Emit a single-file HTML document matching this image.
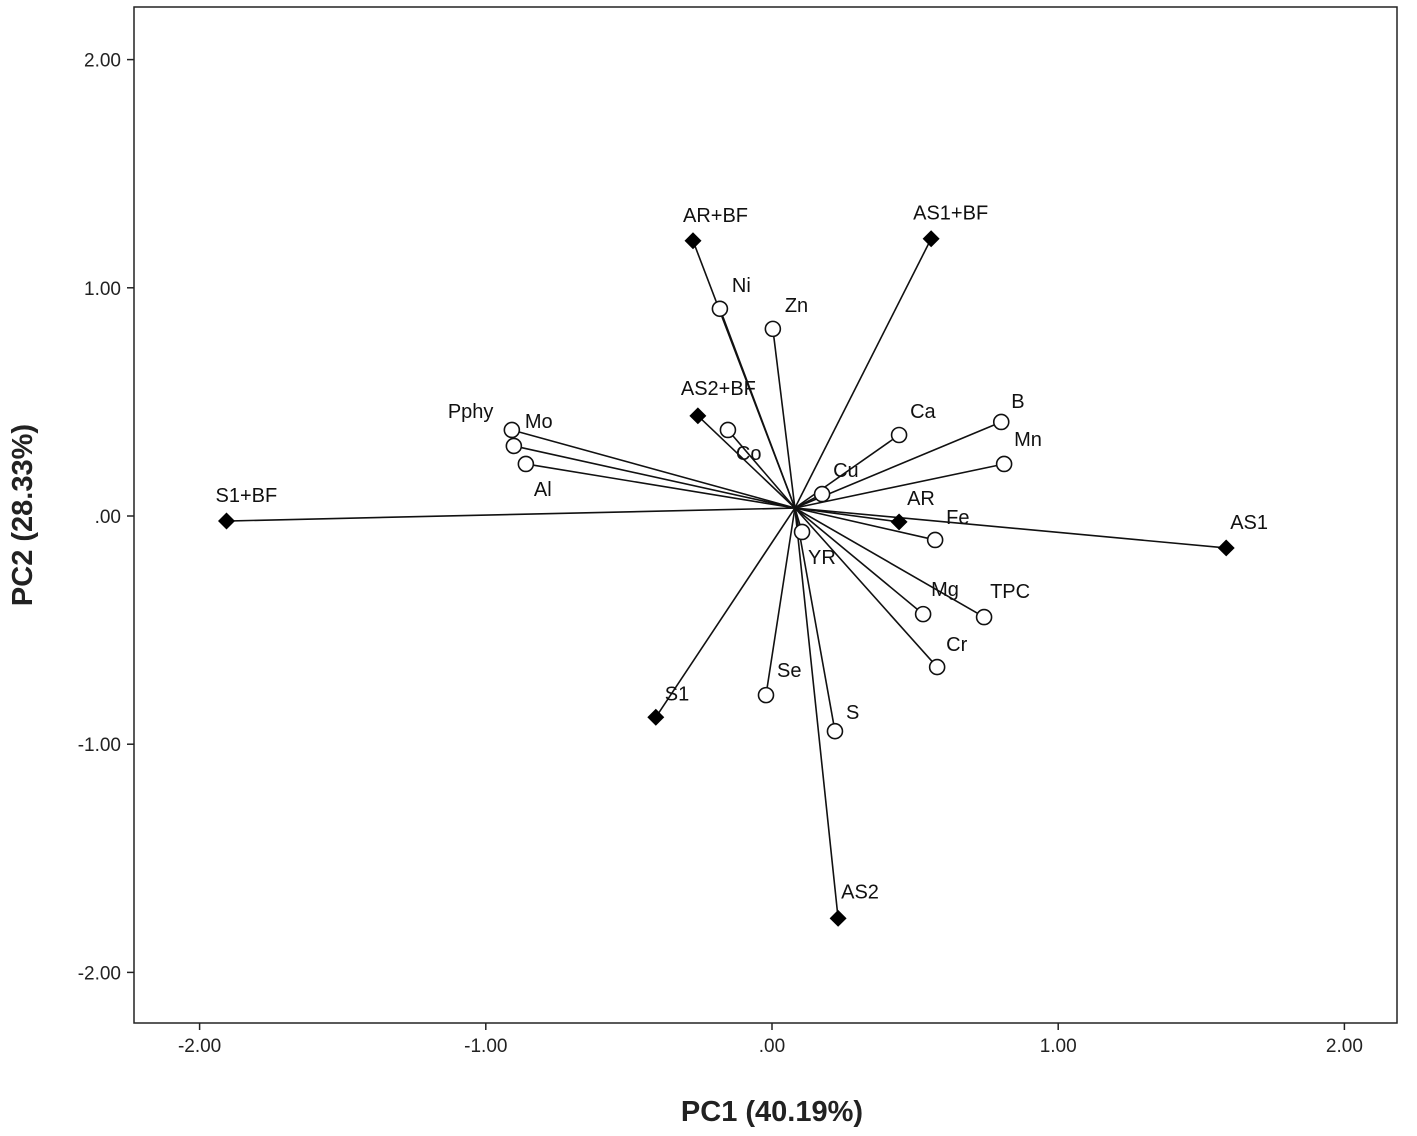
<!DOCTYPE html>
<html><head><meta charset="utf-8"><style>
body{margin:0;background:#fff;}
svg{display:block;font-family:"Liberation Sans",Arial,sans-serif;}
</style></head><body>
<svg id="chart" width="1417" height="1136">
<rect x="134" y="7" width="1263" height="1016" fill="#fff" stroke="#222" stroke-width="1.5"/>
<g id="axes"></g>
<g id="lines"></g>
<g id="marks"></g>
<text x="772" y="1121" text-anchor="middle" font-size="29" font-weight="bold" fill="#222">PC1 (40.19%)</text>
<text transform="translate(32,515) rotate(-90)" text-anchor="middle" font-size="29" font-weight="bold" fill="#222">PC2 (28.33%)</text>
</svg>
<script>
const xTicks=[-2,-1,0,1,2];
const yTicks=[2,1,0,-1,-2];
const tickLabels=["-2.00","-1.00",".00","1.00","2.00"];
const yTickLabels=["2.00","1.00",".00","-1.00","-2.00"];
const center=[0.08,0.035];
const objNames=["AR+BF","AS1+BF","AS2+BF","S1+BF","AR","AS1","S1","AS2"];
const objX=[-0.276,0.556,-0.259,-1.906,0.444,1.587,-0.406,0.231];
const objY=[1.206,1.215,0.439,-0.022,-0.026,-0.140,-0.882,-1.763];
const varNames=["Ni","Zn","Pphy","Mo","Al","Co","Ca","B","Mn","Cu","Fe","YR","Mg","TPC","Cr","Se","S"];
const varX=[-0.182,0.003,-0.909,-0.902,-0.860,-0.154,0.444,0.801,0.811,0.175,0.570,0.105,0.528,0.741,0.577,-0.021,0.220];
const varY=[0.908,0.820,0.377,0.307,0.228,0.377,0.355,0.412,0.228,0.096,-0.105,-0.070,-0.430,-0.443,-0.662,-0.785,-0.943];
// label offsets (style)
const objOff=[[-10,-19],[-18,-19],[-17,-21],[-11,-19],[8,-17],[4,-19],[9,-17],[3,-20]];
const varOff=[[12,-17],[12,-17],[-64,-12],[11,-18],[8,32],[8,30],[11,-17],[10,-14],[10,-18],[11,-17],[11,-16],[6,32],[8,-18],[6,-19],[9,-16],[11,-18],[11,-12]];
const sx=v=>772+v*286.2;
const sy=v=>516-v*228.2;
const NS="http://www.w3.org/2000/svg";
function mk(tag,attrs,parent){const e=document.createElementNS(NS,tag);for(const k in attrs)e.setAttribute(k,attrs[k]);parent.appendChild(e);return e;}
const axes=document.getElementById('axes'),lines=document.getElementById('lines'),marks=document.getElementById('marks');
xTicks.forEach((t,i)=>{
  const l=mk('line',{x1:sx(t),x2:sx(t),y1:1023,y2:1030,stroke:'#222','stroke-width':1.5},axes);
  
  
  const tx=mk('text',{x:sx(t),y:1052,'text-anchor':'middle','font-size':19,fill:'#222'},axes);
  tx.textContent=tickLabels[i];
  
  
});
yTicks.forEach((t,i)=>{
  const l=mk('line',{x1:127,x2:134,y1:sy(t),y2:sy(t),stroke:'#222','stroke-width':1.5},axes);
  
  
  const tx=mk('text',{x:121,y:sy(t)+7,'text-anchor':'end','font-size':19,fill:'#222'},axes);
  tx.textContent=yTickLabels[i];
  
  
});
const cx=sx(center[0]),cy=sy(center[1]);
function ray(x,y){
  const l=mk('line',{x1:cx,y1:cy,x2:sx(x),y2:sy(y),stroke:'#111','stroke-width':1.6},lines);
  
  
}
objNames.forEach((n,i)=>{
  ray(objX[i],objY[i]);
  const px=sx(objX[i]),py=sy(objY[i]);
  const d=mk('rect',{x:px-6,y:py-6,width:12,height:12,fill:'#000',transform:`rotate(45 ${px} ${py})`},marks);
  
  
  const t=mk('text',{x:px+objOff[i][0],y:py+objOff[i][1],'font-size':20,fill:'#111'},marks);
  t.textContent=n;
  
  
});
varNames.forEach((n,i)=>{
  ray(varX[i],varY[i]);
  const px=sx(varX[i]),py=sy(varY[i]);
  const c=mk('circle',{cx:px,cy:py,r:7.5,fill:'#fff',stroke:'#111','stroke-width':1.6},marks);
  
  
  const t=mk('text',{x:px+varOff[i][0],y:py+varOff[i][1],'font-size':20,fill:'#111'},marks);
  t.textContent=n;
  
  
});
</script>
</body></html>
